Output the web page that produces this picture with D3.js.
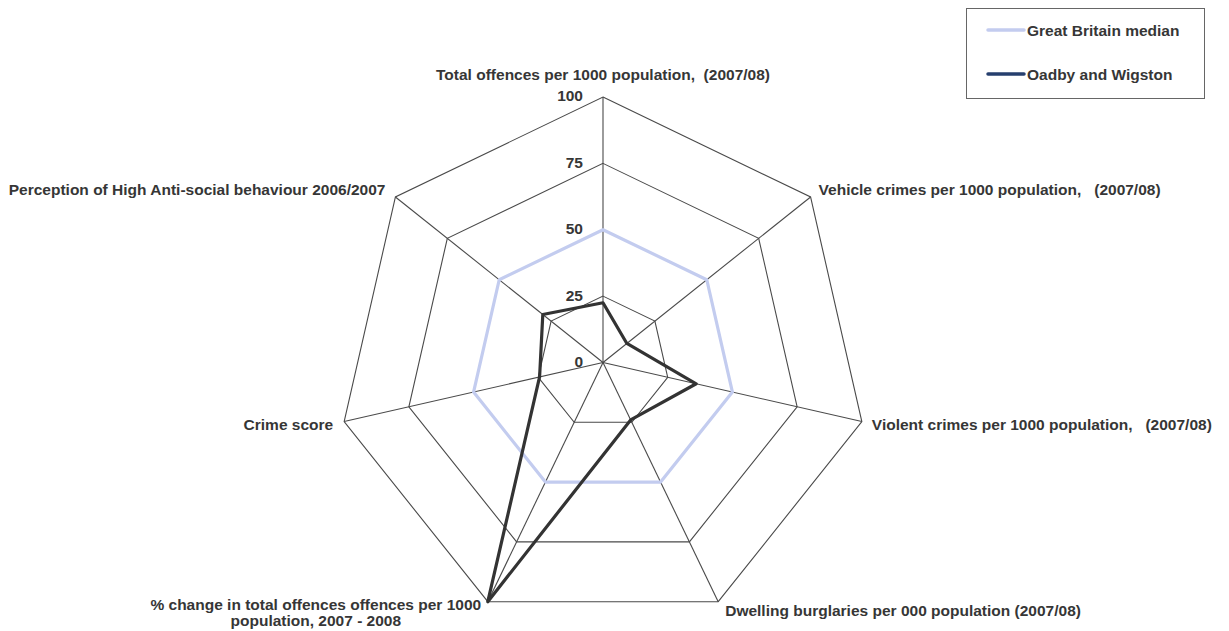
<!DOCTYPE html>
<html><head><meta charset="utf-8">
<script src="https://cdn.jsdelivr.net/npm/d3@7"></script>
<style>
body{margin:0;background:#fff;}
text{font-family:"Liberation Sans",Arial,sans-serif;fill:#363636;font-weight:bold;white-space:pre;}
</style></head>
<body><svg id="c" width="1229" height="631"></svg>
<script>
const categories = [
  ["Total offences per 1000 population,  (2007/08)"],
  ["Vehicle crimes per 1000 population,   (2007/08)"],
  ["Violent crimes per 1000 population,   (2007/08)"],
  ["Dwelling burglaries per 000 population (2007/08)"],
  ["% change in total offences offences per 1000", "population, 2007 - 2008"],
  ["Crime score"],
  ["Perception of High Anti-social behaviour 2006/2007"]
];
const seriesNames = ["Great Britain median", "Oadby and Wigston"];
const gbMedian = [50, 50, 50, 50, 50, 50, 50];
const oadby = [22.5, 11.5, 36, 24, 100, 24.5, 29];
const ticks = [0, 25, 50, 75, 100];

const svg = d3.select("#c");
const cx = 603, cy = 362.5, R = 265.5;
const n = categories.length;
const r = d3.scaleLinear().domain([0, 100]).range([0, R]);
const ang = d3.scaleLinear().domain([0, n]).range([0, 2 * Math.PI]);
const g = svg.append("g").attr("transform", `translate(${cx},${cy})`);

const radial = d3.lineRadial()
  .angle((d, i) => ang(i))
  .radius(d => r(d))
  .curve(d3.curveLinearClosed);

// grid rings
g.selectAll("path.ring").data(ticks.filter(t => t > 0)).join("path")
  .attr("class", "ring")
  .attr("d", t => radial(categories.map(() => t)))
  .attr("fill", "none").attr("stroke", "#4a4a4a").attr("stroke-width", 1.1);

// spokes
g.selectAll("line.spoke").data(categories).join("line")
  .attr("x1", 0).attr("y1", 0)
  .attr("x2", (d, i) => r(100) * Math.sin(ang(i)))
  .attr("y2", (d, i) => -r(100) * Math.cos(ang(i)))
  .attr("stroke", "#4a4a4a").attr("stroke-width", 1.1);

// series
g.append("path").attr("d", radial(gbMedian))
  .attr("fill", "none").attr("stroke", "#c3ccef").attr("stroke-width", 3.2)
  .attr("stroke-linejoin", "round");
g.append("path").attr("d", radial(oadby))
  .attr("fill", "none").attr("stroke", "#333333").attr("stroke-width", 3.2)
  .attr("stroke-linejoin", "round");

const fs = 15.5;
// tick labels
g.selectAll("text.tick").data(ticks).join("text")
  .attr("x", -20).attr("y", t => -r(t) - 1)
  .attr("text-anchor", "end").attr("dy", "0.35em")
  .attr("font-size", fs)
  .text(t => t);

// category labels
categories.forEach((lines, i) => {
  const a = ang(i);
  const vx = r(100) * Math.sin(a), vy = -r(100) * Math.cos(a);
  const t = g.append("text").attr("font-size", fs);
  let x = vx, y = vy, anchor = "start";
  if (i === 0) { x = 0; y = vy - 22; anchor = "middle"; }
  else if (i === 1) { x = vx + 8; y = vy - 7; anchor = "start"; }
  else if (i === 2) { x = vx + 10; y = vy + 3; anchor = "start"; }
  else if (i === 3) { x = vx + 7; y = vy + 9; anchor = "start"; }
  else if (i === 4) { x = vx - 172; y = vy + 3; anchor = "middle"; }
  else if (i === 5) { x = vx - 11; y = vy + 3; anchor = "end"; }
  else if (i === 6) { x = vx - 10; y = vy - 7; anchor = "end"; }
  t.attr("text-anchor", anchor);
  lines.forEach((s, k) => {
    t.append("tspan").attr("x", x).attr("y", y + k * 16).attr("dy", "0.35em").text(s);
  });
});

// legend
const lg = svg.append("g");
lg.append("rect").attr("x", 966.5).attr("y", 8.5).attr("width", 238).attr("height", 90)
  .attr("fill", "#fff").attr("stroke", "#666").attr("stroke-width", 1);
const legColors = ["#c3ccef", "#263f6e"];
seriesNames.forEach((s, k) => {
  const y = 30 + k * 44;
  lg.append("line").attr("x1", 988).attr("x2", 1024).attr("y1", y).attr("y2", y)
    .attr("stroke", legColors[k]).attr("stroke-width", 3.5).attr("stroke-linecap", "round");
  lg.append("text").attr("x", 1027).attr("y", y + 1).attr("dy", "0.35em")
    .attr("font-size", fs).text(s);
});
</script></body></html>
